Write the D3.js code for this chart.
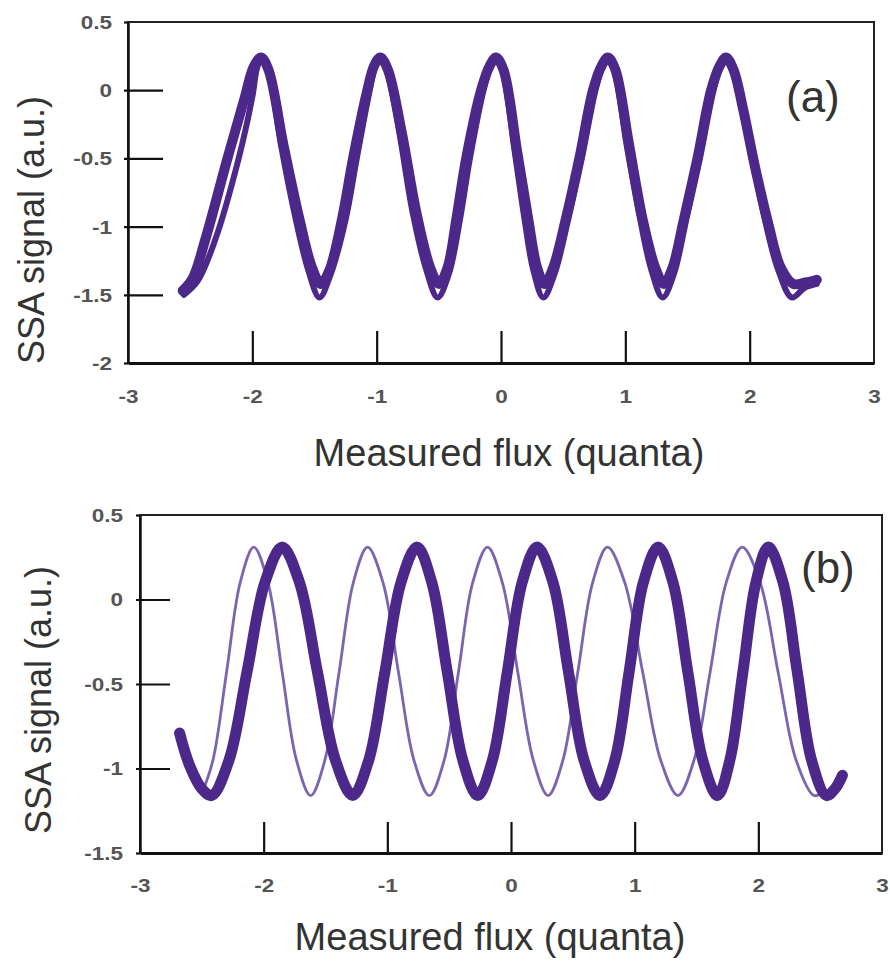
<!DOCTYPE html>
<html>
<head>
<meta charset="utf-8">
<script src="https://cdn.jsdelivr.net/npm/d3@7"></script>
<style>
  body { margin: 0; background: #fff; }
  svg { display: block; }
</style>
</head>
<body>
<svg id="chart" width="890" height="963"></svg>
<script>
// ---------------- data ----------------
const xTicks = [-3, -2, -1, 0, 1, 2, 3];
const yTicksA = [0.5, 0, -0.5, -1, -1.5, -2];
const yTicksB = [0.5, 0, -0.5, -1, -1.5];
const panelLabels = ["(a)", "(b)"];
const xTitle = "Measured flux (quanta)";
const yTitle = "SSA signal (a.u.)";

// panel (a): two overlapping sweeps
const sweepA1 = [
  [-2.56,-1.47],[-2.48,-1.38],[-2.38,-1.1],[-2.2,-0.5],[-2.06,-0.05],[-1.99,0.17],[-1.93,0.24],[-1.87,0.15],
  [-1.75,-0.4],[-1.62,-0.95],[-1.52,-1.3],[-1.45,-1.42],[-1.38,-1.32],[-1.28,-0.95],[-1.19,-0.5],[-1.08,-0.02],
  [-1.02,0.18],[-0.97,0.24],[-0.91,0.15],[-0.8,-0.3],[-0.68,-0.9],[-0.57,-1.3],[-0.5,-1.42],[-0.43,-1.3],
  [-0.36,-0.95],[-0.28,-0.5],[-0.16,0.0],[-0.09,0.18],[-0.04,0.24],[0.02,0.15],[0.13,-0.45],[0.22,-0.95],
  [0.29,-1.3],[0.35,-1.42],[0.42,-1.3],[0.52,-0.95],[0.63,-0.5],[0.74,0.0],[0.81,0.18],[0.86,0.24],
  [0.92,0.15],[1.03,-0.4],[1.14,-0.95],[1.24,-1.3],[1.31,-1.42],[1.38,-1.3],[1.47,-0.95],[1.58,-0.5],
  [1.69,0.0],[1.76,0.18],[1.81,0.24],[1.87,0.15],[1.95,-0.15],[2.04,-0.55],[2.15,-0.98],[2.25,-1.3],
  [2.35,-1.42],[2.45,-1.41],[2.54,-1.39]
];
const sweepA2 = [
  [-2.55,-1.5],[-2.44,-1.4],[-2.3,-1.1],[-2.11,-0.5],[-2.0,-0.05],[-1.96,0.17],[-1.92,0.24],[-1.87,0.15],
  [-1.77,-0.4],[-1.65,-0.95],[-1.55,-1.32],[-1.46,-1.52],[-1.37,-1.35],[-1.25,-0.95],[-1.16,-0.5],[-1.06,-0.02],
  [-1.01,0.18],[-0.97,0.24],[-0.92,0.15],[-0.82,-0.3],[-0.71,-0.9],[-0.6,-1.32],[-0.51,-1.52],[-0.42,-1.35],
  [-0.33,-0.95],[-0.25,-0.5],[-0.14,0.0],[-0.08,0.18],[-0.04,0.24],[0.01,0.15],[0.11,-0.45],[0.19,-0.95],
  [0.26,-1.32],[0.34,-1.52],[0.43,-1.35],[0.54,-0.95],[0.65,-0.5],[0.76,0.0],[0.82,0.18],[0.86,0.24],
  [0.91,0.15],[1.01,-0.4],[1.12,-0.95],[1.21,-1.32],[1.3,-1.52],[1.39,-1.35],[1.49,-0.95],[1.6,-0.5],
  [1.71,0.0],[1.77,0.18],[1.81,0.24],[1.86,0.15],[1.94,-0.15],[2.03,-0.55],[2.13,-0.98],[2.23,-1.32],
  [2.34,-1.52],[2.44,-1.45],[2.54,-1.42]
];

// panel (b): thick (shifted) and thin (reference) sweeps
const sweepBThick = [
  [-2.68,-0.79],[-2.6,-0.98],[-2.5,-1.12],[-2.42,-1.16],[-2.28,-0.95],[-2.135,-0.43],[-1.99,0.1],[-1.85,0.31],
  [-1.71,0.1],[-1.565,-0.43],[-1.42,-0.95],[-1.28,-1.16],[-1.15,-0.95],[-1.02,-0.43],[-0.89,0.1],[-0.76,0.31],
  [-0.64,0.1],[-0.515,-0.43],[-0.39,-0.95],[-0.27,-1.16],[-0.15,-0.95],[-0.03,-0.43],[0.09,0.1],[0.21,0.31],
  [0.34,0.1],[0.465,-0.43],[0.59,-0.95],[0.72,-1.16],[0.84,-0.95],[0.955,-0.43],[1.07,0.1],[1.19,0.31],
  [1.31,0.1],[1.43,-0.43],[1.55,-0.95],[1.67,-1.16],[1.77,-0.95],[1.875,-0.43],[1.98,0.1],[2.08,0.31],
  [2.2,0.1],[2.315,-0.43],[2.43,-0.95],[2.55,-1.16],[2.62,-1.12],[2.68,-1.04]
];
const sweepBThin = [
  [-2.5,-1.15],[-2.41,-0.95],[-2.3,-0.43],[-2.19,0.1],[-2.08,0.31],
  [-1.965,0.1],[-1.85,-0.43],[-1.735,-0.95],[-1.62,-1.16],[-1.505,-0.95],[-1.39,-0.43],[-1.275,0.1],[-1.16,0.31],
  [-1.035,0.1],[-0.91,-0.43],[-0.785,-0.95],[-0.66,-1.16],[-0.54,-0.95],[-0.425,-0.43],[-0.31,0.1],[-0.19,0.31],
  [-0.07,0.1],[0.055,-0.43],[0.18,-0.95],[0.30,-1.16],[0.42,-0.95],[0.54,-0.43],[0.66,0.1],[0.78,0.31],
  [0.92,0.1],[1.065,-0.43],[1.21,-0.95],[1.35,-1.16],[1.48,-0.95],[1.61,-0.43],[1.74,0.1],[1.87,0.31],
  [2.015,0.1],[2.16,-0.43],[2.305,-0.95],[2.45,-1.16],[2.52,-1.14]
];

// ---------------- drawing ----------------
const svg = d3.select("#chart");
const purple = "#4b2889";
const tickFont = "'Liberation Sans', Arial, sans-serif";

function drawPanel(cfg) {
  const x = d3.scaleLinear().domain([-3, 3]).range([cfg.left, cfg.right]);
  const y = d3.scaleLinear().domain(cfg.yDomain).range([cfg.bottom, cfg.top]);
  const g = svg.append("g");

  // frame (top & right)
  g.append("rect")
    .attr("x", cfg.left).attr("y", cfg.top)
    .attr("width", cfg.right - cfg.left).attr("height", cfg.bottom - cfg.top)
    .attr("fill", "none").attr("stroke", "#222").attr("stroke-width", 2);

  // curves
  const line = d3.line().x(d => x(d[0])).y(d => y(d[1])).curve(d3.curveCatmullRom.alpha(0.5));
  cfg.series.forEach(s => {
    g.append("path").datum(s.data)
      .attr("d", line)
      .attr("fill", "none")
      .attr("stroke", s.color)
      .attr("stroke-width", s.width)
      .attr("stroke-opacity", s.opacity)
      .attr("stroke-linejoin", "round")
      .attr("stroke-linecap", "round");
  });

  // y axis
  const yEnds = [cfg.yDomain[0], cfg.yDomain[1]];
  const ya = g.append("g").attr("transform", `translate(${cfg.left},0)`)
    .call(d3.axisLeft(y).tickValues(cfg.yTicks).tickFormat(d => String(d))
      .tickSizeInner(-cfg.yTickLen).tickSizeOuter(0).tickPadding(cfg.yPad));
  ya.select(".domain").attr("stroke", "#111").attr("stroke-width", 2.5);
  ya.selectAll(".tick line").attr("stroke", "#111").attr("stroke-width", 2.2)
    .attr("x1", -4)
    .attr("x2", d => yEnds.includes(d) ? 0 : cfg.yTickLen);
  ya.selectAll(".tick text")
    .attr("x", null)
    .attr("transform", `translate(${-cfg.yPad},0) scale(1.25,1)`)
    .attr("dy", "0.36em")
    .attr("fill", "#555").attr("font-family", tickFont)
    .attr("font-size", 18).attr("font-weight", "bold");

  // x axis
  const xa = g.append("g").attr("transform", `translate(0,${cfg.bottom})`)
    .call(d3.axisBottom(x).tickValues(xTicks).tickFormat(d => String(d))
      .tickSizeInner(-cfg.xTickLen).tickSizeOuter(0).tickPadding(0));
  xa.select(".domain").attr("stroke", "#111").attr("stroke-width", 3);
  xa.selectAll(".tick line").attr("stroke", "#111").attr("stroke-width", 2.2)
    .attr("y2", d => (d === -3 || d === 3) ? 0 : -cfg.xTickLen);
  xa.selectAll(".tick text")
    .attr("y", null).attr("dy", "0.36em")
    .attr("transform", `translate(0,${cfg.xLabOff}) scale(1.25,1)`)
    .attr("fill", "#555").attr("font-family", tickFont)
    .attr("font-size", 18).attr("font-weight", "bold");

  // axis titles
  g.append("text")
    .attr("x", cfg.xTitleX).attr("y", cfg.xTitleY)
    .attr("text-anchor", "middle")
    .attr("font-family", tickFont).attr("font-size", 38).attr("fill", "#333")
    .text(xTitle);
  g.append("text")
    .attr("transform", `translate(${cfg.yTitleX},${cfg.yTitleY}) rotate(-90)`)
    .attr("text-anchor", "middle")
    .attr("font-family", tickFont).attr("font-size", 36).attr("fill", "#333")
    .text(yTitle);

  // panel label
  g.append("text")
    .attr("x", cfg.labX).attr("y", cfg.labY)
    .attr("font-family", tickFont).attr("font-size", 44).attr("fill", "#333")
    .text(cfg.label);
}

drawPanel({
  left: 128, right: 874, top: 22, bottom: 363,
  yDomain: [-2, 0.5], yTicks: yTicksA,
  yTickLen: 35, xTickLen: 32, yPad: 16, xLabOff: 34,
  xTitleX: 509, xTitleY: 466, yTitleX: 44, yTitleY: 230,
  label: panelLabels[0], labX: 786, labY: 112,
  series: [
    { data: sweepA2, color: purple, width: 6, opacity: 1 },
    { data: sweepA1, color: purple, width: 10, opacity: 1 }
  ]
});

drawPanel({
  left: 140, right: 882, top: 515, bottom: 853,
  yDomain: [-1.5, 0.5], yTicks: yTicksB,
  yTickLen: 30, xTickLen: 31, yPad: 17, xLabOff: 33,
  xTitleX: 490, xTitleY: 950, yTitleX: 51, yTitleY: 700,
  label: panelLabels[1], labX: 801, labY: 583,
  series: [
    { data: sweepBThin, color: "#5a3d9c", width: 2.8, opacity: 0.8 },
    { data: sweepBThick, color: purple, width: 11, opacity: 1 }
  ]
});
</script>
</body>
</html>
